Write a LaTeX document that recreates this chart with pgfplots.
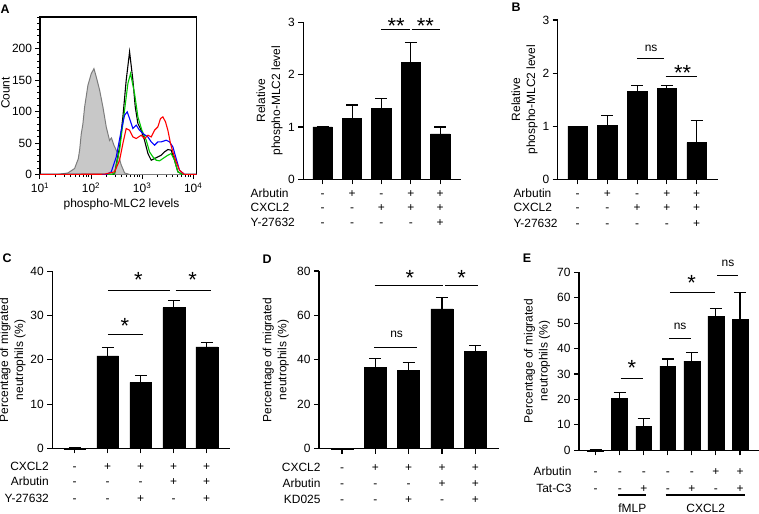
\documentclass[border=0pt]{standalone}
\usepackage{fontspec}
\setmainfont{Liberation Sans}
\usepackage{pgfplots}
\pgfplotsset{compat=1.18}
\newcommand\fs{\fontsize{12}{15}\selectfont}
\newcommand\st{\fontsize{22}{22}\selectfont}
\definecolor{hgray}{RGB}{200,200,200}
\definecolor{hgrayline}{RGB}{125,125,125}
\definecolor{hgreen}{RGB}{0,200,0}
\definecolor{hblue}{RGB}{0,0,255}
\definecolor{hred}{RGB}{255,0,0}
\pgfplotsset{
  barax/.style={
    scale only axis, anchor=south west, axis lines=left,
    axis line style={-, line width=1.1bp},
    tick style={black, line width=1.1bp}, major tick length=5bp,
    tick align=outside, clip=false, ybar, bar width=0.66, ymin=0,
    xticklabels={},
    /pgf/number format/assume math mode=true,
    tick label style={font=\fs},
  },
  errbar/.style={fill=black, draw=black, line width=0.5bp,
    error bars/.cd, y dir=plus, y explicit,
    error bar style={line width=1.1bp, black},
    error mark options={rotate=90, line width=1.1bp, mark size=6bp, black}},
}
\tikzset{
  sg/.style={font=\fs, inner sep=0pt, anchor=base},
  star/.style={font=\st, inner sep=0pt, anchor=center, yshift=-4.6bp},
  nsl/.style={font=\fs, inner sep=0pt, anchor=center},
  sl/.style={line width=1.1bp},
  ylab/.style={font=\fs, rotate=90, align=center, anchor=center},
  plab/.style={font=\bfseries\fontsize{12.5}{12.5}\selectfont, anchor=center, inner sep=0pt},
}
\newcommand\signrow[4]{\foreach \s [count=\i from 0] in {#4} {\node[sg] at ({#1bp+\i*#2bp},{-#3bp-4.3bp}) {\s};}}
\begin{document}
\begin{tikzpicture}
\useasboundingbox (0,0) rectangle (759bp,-514bp);

% ---------------- Panel A histogram
\begin{axis}[scale only axis, anchor=south west, at={(40bp,-174.5bp)},
  width=156.7bp, height=157.5bp, xmin=1, xmax=4.07, ymin=0, ymax=250,
  axis line style={line width=1.1bp}, tick style={black, line width=1bp},
  tick align=outside, xtick pos=left, ytick pos=left,
  major tick length=4.5bp, minor tick length=2.5bp,
  xtick={1,2,3,4}, xticklabels={10\textsuperscript{1},10\textsuperscript{2},10\textsuperscript{3},10\textsuperscript{4}},
  minor xtick={1.301,1.477,1.602,1.699,1.778,1.845,1.903,1.954,2.301,2.477,2.602,2.699,2.778,2.845,2.903,2.954,3.301,3.477,3.602,3.699,3.778,3.845,3.903,3.954},
  ytick={0,50,100,150,200}, minor ytick={10,20,...,250},
  /pgf/number format/assume math mode=true, tick label style={font=\fs}]
\addplot[fill=hgray, draw=hgrayline, line width=1bp] coordinates {
(1.0,0) (1.352,0) (1.548,2.5) (1.678,9.5) (1.750,25) (1.776,38.6) (1.809,65) (1.840,80) (1.874,107) (1.939,141.7) (2.004,160) (2.057,168) (2.102,155) (2.168,134) (2.233,107) (2.298,75.5) (2.363,54) (2.400,58) (2.448,46.5) (2.526,33) (2.592,15) (2.657,2.5) (2.755,0) (4.07,0)};
\addplot[black, line width=1.1bp, mark=none] coordinates {
(1.0,0) (2.40,0) (2.461,1) (2.559,43.9) (2.624,91.5) (2.689,149.7) (2.755,194.7) (2.820,149.7) (2.866,107.4) (2.918,80.9) (2.983,70.3) (3.048,54.4) (3.114,33.3) (3.179,22.7) (3.244,25.3) (3.309,28.0) (3.374,30.6) (3.440,35.9) (3.505,39.6) (3.570,38.6) (3.635,22.7) (3.701,4.2) (3.798,0) (4.07,0)};
\addplot[hgreen, line width=1.1bp, mark=none] coordinates {
(1.0,0) (2.40,0) (2.461,2) (2.559,38.6) (2.657,102.1) (2.722,144.4) (2.774,160.3) (2.853,128.5) (2.918,91.5) (2.996,70.3) (3.081,54.4) (3.146,35.9) (3.211,28.0) (3.277,22.7) (3.342,21.6) (3.407,25.3) (3.505,30.6) (3.570,33.3) (3.635,22.7) (3.701,4.2) (3.798,0) (4.07,0)};
\addplot[hblue, line width=1.1bp, mark=none] coordinates {
(1.0,0) (2.30,0) (2.396,4.2) (2.494,28) (2.592,70.3) (2.657,94.1) (2.709,99.4) (2.755,88.8) (2.820,73) (2.885,78.3) (2.950,70.3) (3.016,65) (3.114,59.7) (3.179,51.8) (3.244,46.5) (3.309,51.8) (3.374,51.8) (3.472,54.4) (3.538,51.8) (3.603,43.9) (3.668,25.3) (3.733,6.8) (3.831,0) (4.07,0)};
\addplot[hred, line width=1.1bp, mark=none] coordinates {
(1.0,0) (2.266,0.5) (2.461,4.2) (2.559,22.7) (2.624,49.2) (2.689,73) (2.755,70.3) (2.820,59.7) (2.885,57.1) (2.983,62.4) (3.048,57.1) (3.114,62.4) (3.179,59.7) (3.244,70.3) (3.309,75.6) (3.361,88.8) (3.407,91.5) (3.459,83.5) (3.505,70.3) (3.557,49.2) (3.603,35.9) (3.668,20.1) (3.733,6.8) (3.831,0) (4.07,0)};
\end{axis}
\node[plab] at (5bp,-9bp) {A};
\node[ylab] at (5.5bp,-93bp) {Count};
\node[sg] at (121.5bp,-207.6bp) {phospho-MLC2 levels};

% ---------------- Panel A bars
\begin{axis}[barax, at={(303.3bp,-179.3bp)}, width=157.4bp, height=157bp,
  xmin=-0.66, xmax=4.7, ymax=3, xtick={0,...,4}, ytick={0,1,2,3}]
\addplot[errbar] coordinates {(0,1)+-(0,0) (1,1.17)+-(0,0.25) (2,1.35)+-(0,0.20) (3,2.24)+-(0,0.38) (4,0.87)+-(0,0.13)};
\draw[sl] (axis cs:2,2.86) -- (axis cs:2.98,2.86);
\draw[sl] (axis cs:3.03,2.86) -- (axis cs:4,2.86);
\node[star] at (axis cs:2.5,3.01) {**};
\node[star] at (axis cs:3.5,3.01) {**};
\end{axis}
\node[ylab] at (269.5bp,-100.8bp) {Relative\\phospho-MLC2 level};
\node[sg, anchor=base west] at (250.5bp,-197.0bp) {Arbutin};
\node[sg, anchor=base west] at (250.5bp,-211.6bp) {CXCL2};
\node[sg, anchor=base west] at (250.5bp,-226.3bp) {Y-27632};
\signrow{322.7}{29.37}{192.7}{-,+,-,+,+}
\signrow{322.7}{29.37}{207.3}{-,-,+,+,+}
\signrow{322.7}{29.37}{222.0}{-,-,-,-,+}

% ---------------- Panel B
\begin{axis}[barax, at={(557.7bp,-179.3bp)}, width=160.6bp, height=159.3bp,
  xmin=-0.67, xmax=4.73, ymax=3, xtick={0,...,4}, ytick={0,1,2,3}]
\addplot[errbar] coordinates {(0,1.0)+-(0,0) (1,1.02)+-(0,0.18) (2,1.65)+-(0,0.12) (3,1.71)+-(0,0.05) (4,0.69)+-(0,0.41)};
\draw[sl] (axis cs:1.99,2.27) -- (axis cs:2.91,2.27);
\node[nsl] at (axis cs:2.47,2.47) {ns};
\draw[sl] (axis cs:2.96,1.94) -- (axis cs:4,1.94);
\node[star] at (axis cs:3.53,2.09) {**};
\end{axis}
\node[plab] at (516bp,-7.5bp) {B};
\node[ylab] at (524.5bp,-99.6bp) {Relative\\phospho-MLC2 level};
\node[sg, anchor=base west] at (513.3bp,-197.0bp) {Arbutin};
\node[sg, anchor=base west] at (513.3bp,-211.6bp) {CXCL2};
\node[sg, anchor=base west] at (513.3bp,-227.3bp) {Y-27632};
\signrow{577.7}{29.74}{192.7}{-,+,-,+,+}
\signrow{577.7}{29.74}{207.3}{-,-,+,+,+}
\signrow{577.7}{29.74}{223.0}{-,-,-,-,+}

% ---------------- Panel C
\begin{axis}[barax, at={(52.3bp,-448.3bp)}, width=177.7bp, height=177bp,
  xmin=-0.68, xmax=4.7, ymax=40, xtick={0,...,4}, ytick={0,10,20,30,40}]
\addplot[errbar] coordinates {(0,-0.2)+-(0,0.4) (1,20.9)+-(0,1.8) (2,14.9)+-(0,1.5) (3,31.8)+-(0,1.6) (4,22.95)+-(0,1.05)};
\draw[sl] (axis cs:1,25.7) -- (axis cs:2.08,25.7);
\node[star] at (axis cs:1.52,28.8) {*};
\draw[sl] (axis cs:1,35.75) -- (axis cs:2.89,35.75);
\node[star] at (axis cs:1.93,39.0) {*};
\draw[sl] (axis cs:3.05,35.75) -- (axis cs:4.13,35.75);
\node[star] at (axis cs:3.57,39.0) {*};
\end{axis}
\node[plab] at (7bp,-258bp) {C};
\node[ylab] at (12.5bp,-360bp) {Percentage of migrated\\neutrophils (\%)};
\node[sg, anchor=base east] at (49bp,-470.6bp) {CXCL2};
\node[sg, anchor=base east] at (49bp,-485.6bp) {Arbutin};
\node[sg, anchor=base east] at (49bp,-502.3bp) {Y-27632};
\signrow{74.7}{33.0}{466.3}{-,+,+,+,+}
\signrow{74.7}{33.0}{481.3}{-,-,-,+,+}
\signrow{74.7}{33.0}{498.0}{-,-,+,-,+}

% ---------------- Panel D
\begin{axis}[barax, at={(319bp,-448.7bp)}, width=180.3bp, height=177.7bp,
  xmin=-0.69, xmax=4.72, ymax=80, xtick={0,...,4}, ytick={0,20,40,60,80}]
\addplot[errbar] coordinates {(0,-0.4)+-(0,0.6) (1,36.5)+-(0,4.0) (2,35.4)+-(0,3.5) (3,63.0)+-(0,5.0) (4,43.7)+-(0,2.9)};
\draw[sl] (axis cs:0.97,45.4) -- (axis cs:2.25,45.4);
\node[nsl] at (axis cs:1.64,51.7) {ns};
\draw[sl] (axis cs:0.98,73.3) -- (axis cs:3.02,73.3);
\node[star] at (axis cs:2.04,79.0) {*};
\draw[sl] (axis cs:3.09,73.3) -- (axis cs:4.09,73.3);
\node[star] at (axis cs:3.59,79.0) {*};
\end{axis}
\node[plab] at (267bp,-259bp) {D};
\node[ylab] at (275.8bp,-360bp) {Percentage of migrated\\neutrophils (\%)};
\node[sg, anchor=base east] at (320.7bp,-471.0bp) {CXCL2};
\node[sg, anchor=base east] at (320.7bp,-487.6bp) {Arbutin};
\node[sg, anchor=base east] at (320.7bp,-503.6bp) {KD025};
\signrow{342}{33.33}{466.7}{-,+,+,+,+}
\signrow{342}{33.33}{483.3}{-,-,-,+,+}
\signrow{342}{33.33}{499.3}{-,-,+,-,+}

% ---------------- Panel E
\begin{axis}[barax, at={(579bp,-450.3bp)}, width=180bp, height=178bp,
  xmin=-0.69, xmax=6.79, ymax=70, xtick={0,...,6}, ytick={0,10,...,70}]
\addplot[errbar] coordinates {(0,-0.3)+-(0,0.5) (1,20.3)+-(0,2.35) (2,9.55)+-(0,2.85) (3,33.15)+-(0,2.75) (4,35.1)+-(0,3.3) (5,52.8)+-(0,2.8) (6,51.5)+-(0,10.6)};
\draw[sl] (axis cs:1.04,28.3) -- (axis cs:1.98,28.3);
\node[star] at (axis cs:1.51,34.3) {*};
\draw[sl] (axis cs:3.06,43.8) -- (axis cs:3.97,43.8);
\node[nsl] at (axis cs:3.51,48.9) {ns};
\draw[sl] (axis cs:3.09,62.2) -- (axis cs:4.96,62.2);
\node[star] at (axis cs:3.99,67.8) {*};
\draw[sl] (axis cs:5.06,68.7) -- (axis cs:5.93,68.7);
\node[nsl] at (axis cs:5.5,73.6) {ns};
\end{axis}
\node[plab] at (527bp,-258bp) {E};
\node[ylab] at (537bp,-361bp) {Percentage of migrated\\neutrophils (\%)};
\node[sg, anchor=base east] at (571.7bp,-475.0bp) {Arbutin};
\node[sg, anchor=base east] at (571.7bp,-492.0bp) {Tat-C3};
\signrow{595.7}{24.05}{470.7}{-,-,-,-,-,+,+}
\signrow{595.7}{24.05}{487.7}{-,-,+,-,+,-,+}
\draw[sl] (618.3bp,-495bp) -- (646bp,-495bp);
\draw[sl] (665.7bp,-495bp) -- (745bp,-495bp);
\node[sg] at (632.3bp,-512.3bp) {fMLP};
\node[sg] at (705.7bp,-512.3bp) {CXCL2};
\end{tikzpicture}
\end{document}
